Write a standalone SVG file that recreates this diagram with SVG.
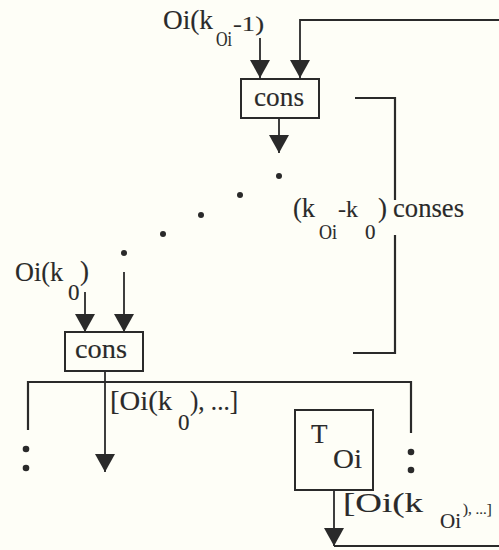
<svg xmlns="http://www.w3.org/2000/svg" width="499" height="550" viewBox="0 0 499 550">
<defs>
<marker id="ah" markerUnits="userSpaceOnUse" markerWidth="18" markerHeight="20" refX="18" refY="10" orient="auto">
<path d="M0,0 L18,10 L0,20 Z" fill="#2a2a2a"/>
</marker>
<style>
.ln{fill:none;stroke:#2a2a2a;stroke-width:2.2}
.ar{fill:none;stroke:#2a2a2a;stroke-width:1.8;marker-end:url(#ah)}
.bx{fill:none;stroke:#2a2a2a;stroke-width:2}
.dot{fill:#2a2a2a}
text{font-family:"Liberation Serif","Times New Roman",serif;fill:#2a2a2a;stroke:#2a2a2a;stroke-width:0.15}
.t{font-size:27px}
.s{font-size:21px}
</style>
</defs>
<rect width="499" height="550" fill="#fefef7"/>

<g id="connectors">
<polyline class="ar" points="499,20 300,20 300,78"/>
<line class="ar" x1="260" y1="38" x2="260" y2="78"/>
<line class="ar" x1="279" y1="118" x2="279" y2="153"/>
<polyline class="ln" points="355,98 395,98 395,200"/>
<polyline class="ln" points="395,235 395,353 353,353"/>
<line class="ar" x1="85" y1="292" x2="85" y2="332"/>
<line class="ar" x1="124" y1="272" x2="124" y2="332"/>
<line class="ar" x1="105" y1="371" x2="105" y2="472"/>
<polyline class="ln" points="28,430 28,382 411,382 411,433"/>
<line class="ar" x1="334" y1="490" x2="334" y2="546"/>
<line class="ln" x1="334" y1="546" x2="499" y2="546"/>
</g>

<g id="dots">
<circle class="dot" cx="279" cy="176" r="3"/>
<circle class="dot" cx="240" cy="195" r="3"/>
<circle class="dot" cx="201" cy="215" r="3"/>
<circle class="dot" cx="163" cy="234" r="3"/>
<circle class="dot" cx="124" cy="253" r="3"/>
<circle class="dot" cx="26" cy="449" r="3.3"/>
<circle class="dot" cx="26" cy="468" r="3.3"/>
<circle class="dot" cx="411" cy="452" r="3.3"/>
<circle class="dot" cx="411" cy="470" r="3.3"/>
</g>

<g id="cons-top">
<rect class="bx" x="241" y="79" width="78" height="39"/>
<text class="t" x="254" y="106" textLength="50" lengthAdjust="spacingAndGlyphs">cons</text>
</g>

<g id="cons-bottom">
<rect class="bx" x="65" y="332" width="78" height="39"/>
<text class="t" x="75" y="358" textLength="52" lengthAdjust="spacingAndGlyphs">cons</text>
</g>

<g id="T-Oi">
<rect class="bx" x="295" y="410" width="78" height="80"/>
<text class="t" x="311" y="443">T</text>
<text class="t" x="333" y="468" textLength="29" lengthAdjust="spacingAndGlyphs">Oi</text>
</g>

<g id="labels">
<text class="t" x="163" y="29" textLength="50" lengthAdjust="spacingAndGlyphs">Oi(k</text>
<text class="s" x="216" y="46" textLength="16" lengthAdjust="spacingAndGlyphs">Oi</text>
<text class="s" x="233" y="31" textLength="31" lengthAdjust="spacingAndGlyphs">-1)</text>

<text class="t" x="15" y="281" textLength="48" lengthAdjust="spacingAndGlyphs">Oi(k</text>
<text style="font-size:23px" x="68" y="300">0</text>
<text class="t" x="80" y="280">)</text>

<text class="t" x="293" y="217" textLength="22" lengthAdjust="spacingAndGlyphs">(k</text>
<text class="s" x="319" y="239" textLength="18" lengthAdjust="spacingAndGlyphs">Oi</text>
<text style="font-size:24px" x="338" y="217" textLength="20" lengthAdjust="spacingAndGlyphs">-k</text>
<text class="s" x="365" y="239">0</text>
<text class="t" x="378" y="217">)</text>
<text class="t" x="393" y="217" textLength="71" lengthAdjust="spacingAndGlyphs">conses</text>

<text class="t" x="110" y="410" textLength="62" lengthAdjust="spacingAndGlyphs">[Oi(k</text>
<text style="font-size:23px" x="178" y="430">0</text>
<text class="t" x="190" y="410" textLength="48" lengthAdjust="spacingAndGlyphs">), ...]</text>

<text class="t" x="343" y="512" textLength="80" lengthAdjust="spacingAndGlyphs">[Oi(k</text>
<text class="s" x="440" y="528" textLength="21" lengthAdjust="spacingAndGlyphs">Oi</text>
<text style="font-size:15px" x="463" y="514">), ...]</text>
</g>
</svg>
